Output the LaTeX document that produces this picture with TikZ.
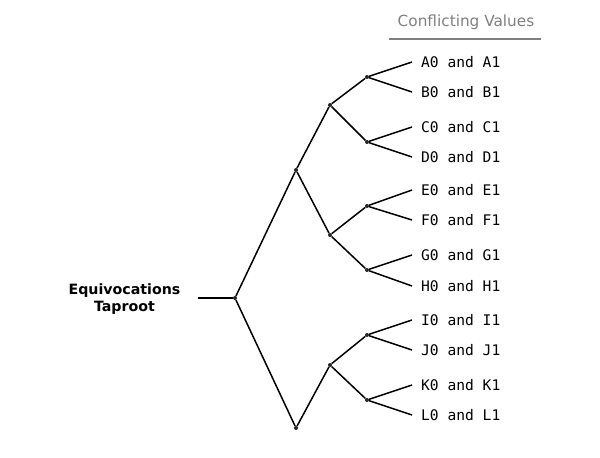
\documentclass[tikz,border=0pt]{standalone}
\usepackage{fontspec}
\setmainfont{DejaVu Sans}
\newfontfamily\leafmono{DejaVu Sans Mono}
\begin{document}
\begin{tikzpicture}[x=1pt,y=-1pt,
  edge/.style={line width=1.5pt,black},
  junc/.style={circle,fill=black!85,inner sep=0pt,minimum size=4pt},
  leaf/.style={anchor=west,inner sep=0pt,font=\leafmono\fontsize{14.6}{17}\selectfont},
  endpt/.style={inner sep=0pt,minimum size=0pt}]
\useasboundingbox (0,0) rectangle (600,458);
% header
\node[font=\fontsize{15.3}{17}\selectfont,text=black!50,inner sep=0pt] (hdr) at (466,22) {Conflicting Values};
\coordinate (ul) at (389,39);
\coordinate (ur) at (541,39);
\draw[line width=1.3pt,black!50] (ul) -- (ur);
% root label
\node[align=center,inner sep=0pt,font=\bfseries\fontsize{14.2}{17}\selectfont] (root) at (124.5,299.5) {Equivocations\\Taproot};
\coordinate (rs) at (198,298);
% junctions
\node[junc] (n0) at (235,298) {};
\node[junc] (n1) at (296,170) {};
\node[junc] (n2) at (296,428) {};
\node[junc] (m1) at (330,105) {};
\node[junc] (m2) at (330,235) {};
\node[junc] (m3) at (330,365) {};
\node[junc] (k1) at (367,77) {};
\node[junc] (k2) at (367,142) {};
\node[junc] (k3) at (367,206) {};
\node[junc] (k4) at (367,270) {};
\node[junc] (k5) at (367,335) {};
\node[junc] (k6) at (367,400) {};
% leaf endpoints and labels
\foreach \n/\y/\t in {a/62/A0 and A1, b/92/B0 and B1, c/127/C0 and C1, d/157/D0 and D1,
                      e/190/E0 and E1, f/220/F0 and F1, g/255/G0 and G1, h/286/H0 and H1,
                      i/320/I0 and I1, j/350/J0 and J1, k/385/K0 and K1, l/415/L0 and L1}{
  \coordinate (e\n) at (412,\y);
  \node[leaf] (t\n) at (421,\y) {\t};
}
\draw[edge] (rs) -- (n0);
\draw[edge] (n0) -- (n1);
\draw[edge] (n0) -- (n2);
\draw[edge] (n1) -- (m1);
\draw[edge] (n1) -- (m2);
\draw[edge] (n2) -- (m3);
\draw[edge] (m1) -- (k1);
\draw[edge] (m1) -- (k2);
\draw[edge] (m2) -- (k3);
\draw[edge] (m2) -- (k4);
\draw[edge] (m3) -- (k5);
\draw[edge] (m3) -- (k6);
\draw[edge] (k1) -- (ea);
\draw[edge] (k1) -- (eb);
\draw[edge] (k2) -- (ec);
\draw[edge] (k2) -- (ed);
\draw[edge] (k3) -- (ee);
\draw[edge] (k3) -- (ef);
\draw[edge] (k4) -- (eg);
\draw[edge] (k4) -- (eh);
\draw[edge] (k5) -- (ei);
\draw[edge] (k5) -- (ej);
\draw[edge] (k6) -- (ek);
\draw[edge] (k6) -- (el);
\end{tikzpicture}
\end{document}
